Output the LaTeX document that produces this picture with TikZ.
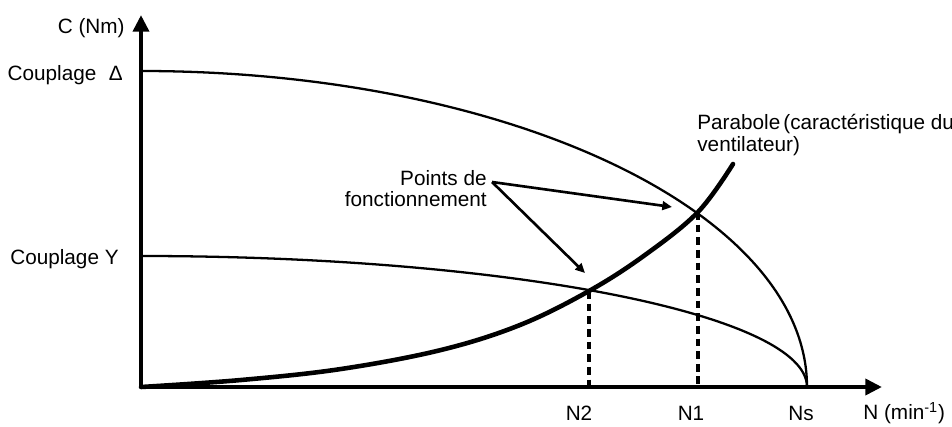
\documentclass[tikz,border=0pt]{standalone}
\usepackage{fontspec}
\setmainfont{Liberation Sans}
\usetikzlibrary{arrows.meta}
\begin{document}
\begin{tikzpicture}[x=0.02cm,y=0.02cm,
  lbl/.style={inner sep=0pt,font=\fontsize{11.8}{12.2}\selectfont},
  axis/.style={line width=2.4pt,-{Triangle[length=9.5pt,width=9pt]}},
  thincurve/.style={line width=1.3pt},
  parab/.style={line width=2.6pt},
  dashv/.style={line width=1.8pt,dash pattern=on 4.4pt off 2.8pt},
  ptr/.style={line width=1.5pt,-{Triangle[length=5.5pt,width=5pt]}}]
\useasboundingbox (0,0) rectangle (952,426);
% axes
\coordinate (O) at (141,39);
\coordinate (ytip) at (141,411);
\coordinate (xtip) at (882,39);
\coordinate (Ns) at (807,39);
\draw[axis] (O) -- (ytip);
\draw[axis] (O) -- (xtip);
% torque curves
\coordinate (Dstart) at (141,355);
\coordinate (Ystart) at (141,170);
\draw[thincurve] (Dstart) arc[start angle=90,end angle=0,x radius=666,y radius=316];
\draw[thincurve] (Ystart) arc[start angle=90,end angle=0,x radius=666,y radius=131];
% parabola
\coordinate (P1) at (698,214);
\coordinate (P2) at (589,135);
\coordinate (Pend) at (733,262);
\draw[parab,line cap=round] plot[smooth,tension=0.6] coordinates {(141,39) (241,46) (341,57) (441,76) (520,101) (589,135) (645,171) (698,214) (733,262)};
% dashed drops
\coordinate (N1b) at (698,39);
\coordinate (N2b) at (589,39);
\draw[dashv] (P1) -- (N1b);
\draw[dashv] (P2) -- (N2b);
% labels
\node[lbl,anchor=east] (cnm) at (125,398) {C (Nm)};
\node[lbl,anchor=east] (cd) at (123,351) {Couplage\hspace{0.6em}Δ};
\node[lbl,anchor=east] (cy) at (119,167) {Couplage Y};
\node[lbl] (n2) at (579,13) {N2};
\node[lbl] (n1) at (691,13) {N1};
\node[lbl] (ns) at (801,13) {Ns};
\node[lbl,anchor=west] (nmin) at (863,13) {N (min\textsuperscript{-1})};
\node[lbl,anchor=north west,align=left] (parlbl) at (697,312) {Parabole\hspace{0.15em}(caractéristique du\\ventilateur)};
\node[lbl,anchor=north east,align=right] (pts) at (487,256) {Points de\\fonctionnement};
% pointers
\coordinate (ps) at (492,244);
\coordinate (op1) at (672,219);
\coordinate (op2) at (585,153);
\draw[ptr] (ps) -- (op1);
\draw[ptr] (ps) -- (op2);
\end{tikzpicture}
\end{document}
